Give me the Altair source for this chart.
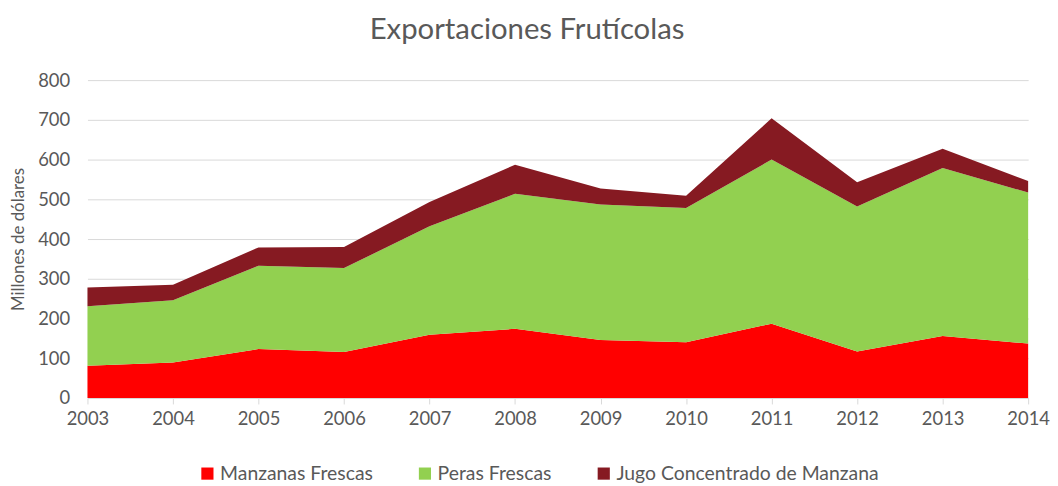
import altair as alt
import pandas as pd

years = [2003, 2004, 2005, 2006, 2007, 2008, 2009, 2010, 2011, 2012, 2013, 2014]
manzanas = [81, 89, 123, 116, 159, 174, 146, 140, 187, 117, 156, 137]
peras = [150, 157, 210, 211, 273, 340, 341, 338, 413, 365, 423, 380]
jugo = [47, 39, 46, 53, 61, 73, 40, 31, 104, 61, 48, 29]

series = ["Manzanas Frescas", "Peras Frescas", "Jugo Concentrado de Manzana"]
colors = ["#FF0000", "#92D050", "#861A22"]

rows = []
for i, y in enumerate(years):
    for k, (name, vals) in enumerate(zip(series, [manzanas, peras, jugo])):
        rows.append({"Año": y, "Serie": name, "Valor": vals[i], "orden": k})
df = pd.DataFrame(rows)

FONT = "Lato"
GRAY = "#595959"

chart = alt.Chart(df).mark_area(opacity=1).encode(
    x=alt.X("Año:Q",
            scale=alt.Scale(domain=[2003, 2014], nice=False, zero=False),
            axis=alt.Axis(values=years, format="d", title=None, grid=False,
                          domainColor="#D9D9D9", tickColor="#D9D9D9", tickSize=6,
                          labelFontSize=18.5, labelColor=GRAY, labelFont=FONT,
                          labelPadding=6, labelFlush=False)),
    y=alt.Y("Valor:Q", stack="zero",
            scale=alt.Scale(domain=[0, 800], nice=False),
            axis=alt.Axis(values=[0, 100, 200, 300, 400, 500, 600, 700, 800],
                          title="Millones de dólares", titleFontSize=17,
                          titleFont=FONT, titleColor=GRAY, titleFontWeight="normal",
                          titleX=-69, titleY=160, titleAngle=-90,
                          titleAlign="center", titleBaseline="middle",
                          grid=True, gridColor="#D9D9D9", gridWidth=1,
                          domain=False, ticks=False,
                          labelFontSize=18.5, labelColor=GRAY, labelFont=FONT,
                          labelPadding=18)),
    color=alt.Color("Serie:N",
                    scale=alt.Scale(domain=series, range=colors),
                    legend=alt.Legend(title=None, orient="none", legendX=111, legendY=386,
                                      direction="horizontal", columns=3,
                                      symbolType="square", symbolSize=150,
                                      symbolStrokeWidth=0, symbolOpacity=1,
                                      labelFontSize=19.5, labelFont=FONT, labelColor=GRAY,
                                      labelLimit=400,
                                      labelOffset=3, columnPadding=42)),
    order=alt.Order("orden:Q", sort="ascending"),
).properties(
    width=947,
    height=320,
    title=alt.TitleParams("Exportaciones Frutícolas", fontSize=29.5, font=FONT,
                          color=GRAY, fontWeight="normal", anchor="middle",
                          dx=-31, offset=26),
    autosize=alt.AutoSizeParams(type="none"),
    padding={"left": 80, "top": 71, "right": 22, "bottom": 86},
).configure_view(stroke=None)

chart.save("out.html", embed_options={"renderer": "svg", "actions": False})
